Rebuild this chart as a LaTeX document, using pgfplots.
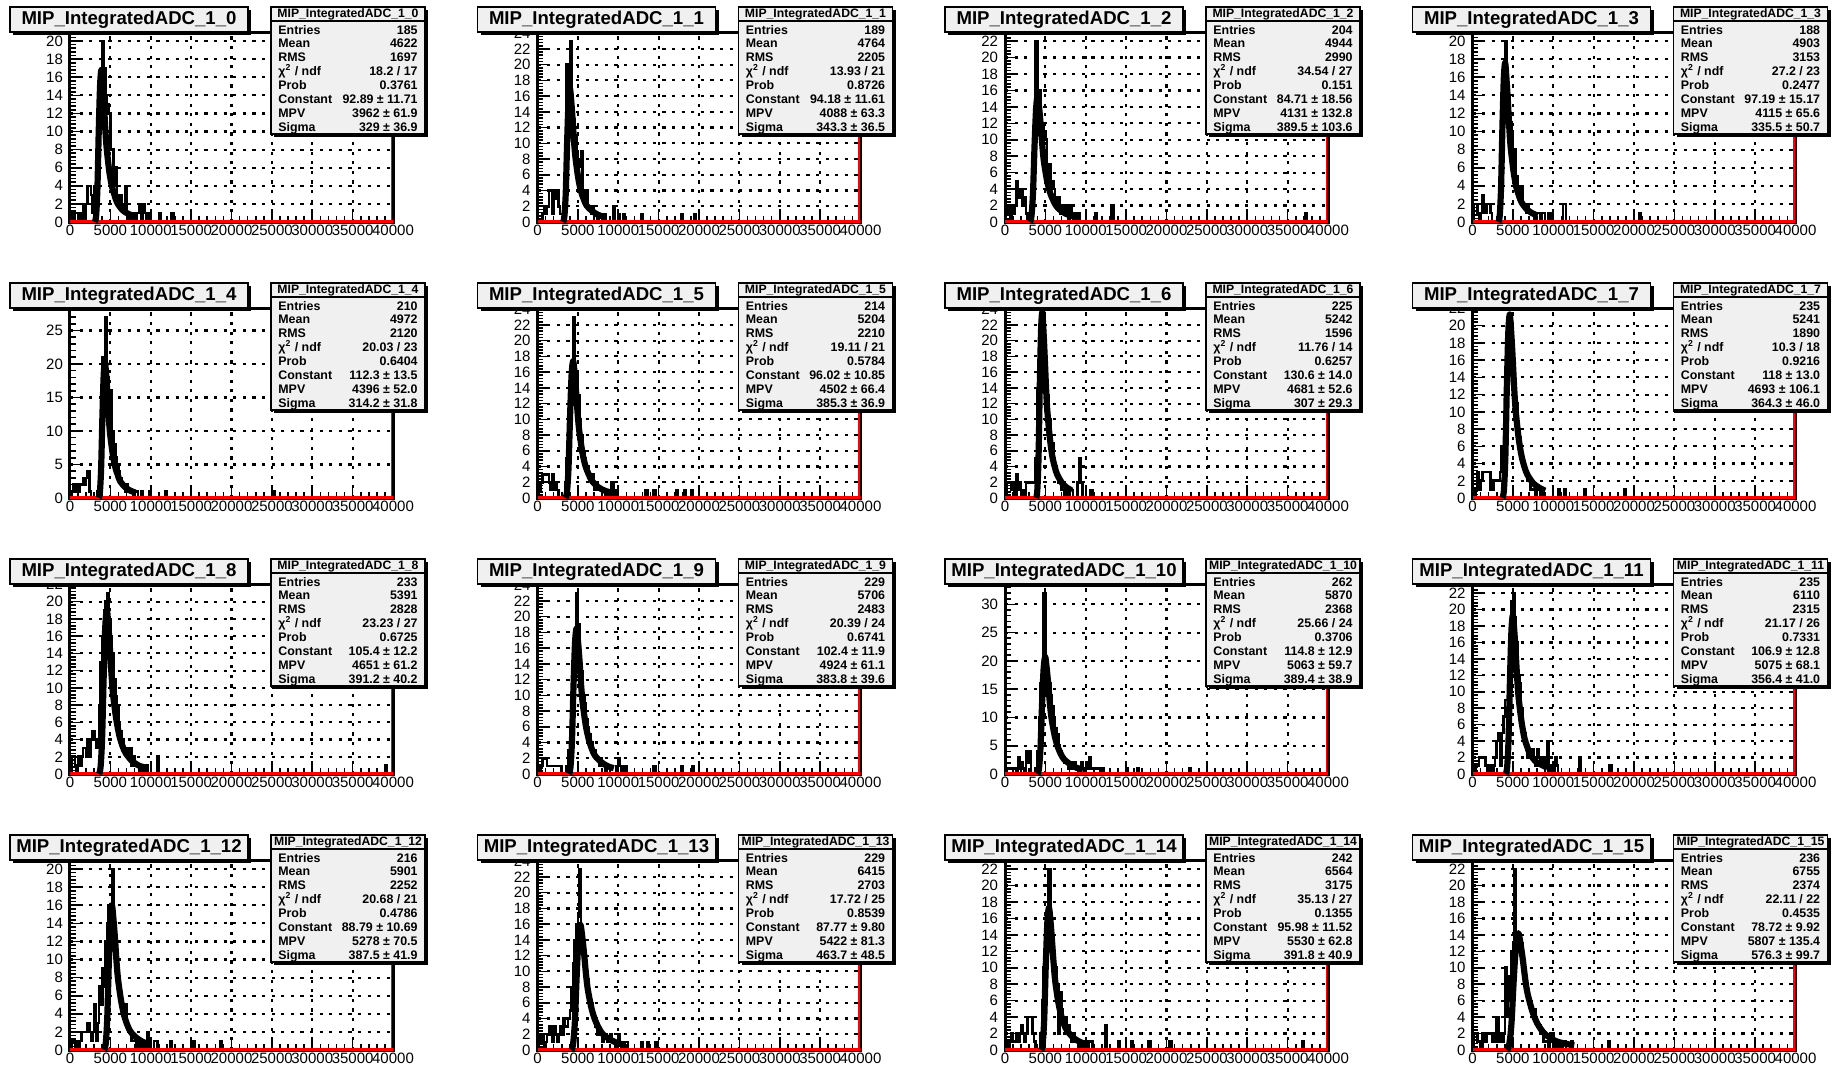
\documentclass[border=0pt]{standalone}
\usepackage{pgfplots}
\pgfplotsset{compat=1.18}
\usepackage{fontspec}
\setmainfont{Liberation Sans}
\definecolor{boxfill}{RGB}{240,240,240}

% one picture pixel = 0.5pt
\pgfplotsset{rootpanel/.style={
  anchor=south west, width=161.5pt, height=95pt, scale only axis,
  xmin=0, xmax=40000, ymin=0,
  xtick={0,5000,...,40000}, minor x tick num=4, minor y tick num=4,
  scaled x ticks=false,
  /pgf/number format/.cd, 1000 sep={}, assume math mode=true, /pgfplots/.cd,
  tick label style={font=\fontsize{7.5}{8}\selectfont},
  xticklabel style={yshift=2.2pt},
  xtick pos=bottom, ytick pos=left, tick align=inside,
  major tick length=5pt, minor tick length=2.8pt,
  every tick/.style={black, line width=0.8pt},
  grid=major,
  major grid style={black, line width=1.1pt, dash pattern=on 1.6pt off 3.2pt},
  axis line style={black, line width=1.5pt},
}}

\newcommand\setstats[8]{\def\sA{#1}\def\sB{#2}\def\sC{#3}\def\sD{#4}%
  \def\sE{#5}\def\sF{#6}\def\sG{#7}\def\sH{#8}}
\newcommand\sfnt{\fontsize{6.2}{6.5}\bfseries\selectfont}
\newcommand\srow[3]{%
  \node[anchor=base west, font=\sfnt, inner sep=0] at (278,#1) {#2};
  \node[anchor=base east, font=\sfnt, inner sep=0] at (418,#1) {#3};}

% #1 x offset, #2 y offset (px), #3 index, #4 ymax, #5 y step, #6 histogram, #7 fit
\newcommand\panel[7]{%
\begin{axis}[rootpanel, at={({(#1+70)*0.5pt},{-(#2+222)*0.5pt})}, ymax=#4, ytick distance=#5]
  \addplot[const plot, black, line width=1.3pt] coordinates {#6};
  \addplot[red, line width=1.8pt] coordinates {(0,0) (40000,0)};
  \addplot[black, line width=3.1pt, smooth, line join=round] coordinates {#7};
\end{axis}
\begin{scope}[x=0.5pt, y=-0.5pt, shift={(#1,#2)}]
  \draw[red, line width=0.9pt] (391.5,134) -- (391.5,221);
  % title
  \fill[black] (13,10) rectangle (251,35);
  \filldraw[fill=boxfill, draw=black, line width=0.8pt] (10,7) rectangle (248,32);
  \node[font=\fontsize{9.3}{10}\bfseries\selectfont, inner sep=0] at (129,19.5) {MIP\_IntegratedADC\_1\_#3};
  % stats
  \fill[black] (274,10) rectangle (428,137);
  \filldraw[fill=boxfill, draw=black, line width=0.8pt] (271,7) rectangle (425,134);
  \draw[line width=0.8pt] (271,21) -- (425,21);
  \node[font=\fontsize{6.1}{6.5}\bfseries\selectfont, inner sep=0] at (348,14.5) {MIP\_IntegratedADC\_1\_#3};
  \srow{34}{Entries}{\sA}
  \srow{47.9}{Mean}{\sB}
  \srow{61.8}{RMS}{\sC}
  \srow{75.7}{χ\textsuperscript{2} / ndf}{\sD}
  \srow{89.6}{Prob}{\sE}
  \srow{103.5}{Constant}{\sF}
  \srow{117.4}{MPV}{\sG}
  \srow{131.3}{Sigma}{\sH}
\end{scope}}

\begin{document}
\begin{tikzpicture}
\useasboundingbox (0,0) rectangle (918.5pt,-533.5pt);

% ---- row 1
\setstats{185}{4622}{1697}{18.2 / 17}{0.3761}{92.89 ± 11.71}{3962 ± 61.9}{329 ± 36.9}
\panel{0}{0}{0}{21}{2}
{(0,0)(200,1)(400,0)(600,1)(800,1)(1000,0)(1200,1)(1400,0)(1600,2)(1800,0)(2000,2)(2200,4)(2400,4)(2600,3)(2800,1)(3000,4)(3200,4)(3400,7)(3600,13)(3800,16)(4000,20)(4200,17)(4400,14)(4600,13)(4800,12)(5000,8)(5200,8)(5400,4)(5600,6)(5800,3)(6000,2)(6200,3)(6400,2)(6600,1)(6800,4)(7000,1)(7200,0)(7400,1)(7600,0)(7800,1)(8000,0)(8200,1)(8400,1)(8600,2)(8800,0)(9000,2)(9200,1)(9400,0)(9600,1)(9800,0)(11000,1)(11200,0)(12600,1)(12800,0)}
{(3068,0)(3232,0.67)(3396,3.7)(3561,10.1)(3725,15.1)(3890,16.8)(4054,15.1)(4219,12.8)(4383,10.1)(4548,8.1)(4877,5.5)(5206,3.9)(5535,2.9)(5864,2.1)(6522,1.3)(7180,0.92)(7838,0.67)}

\setstats{189}{4764}{2205}{13.93 / 21}{0.8726}{94.18 ± 11.61}{4088 ± 63.3}{343.3 ± 36.5}
\panel{467.5}{0}{1}{24.15}{2}
{(0,0)(600,1)(800,2)(1000,1)(1200,2)(1400,4)(1600,4)(1800,1)(2000,4)(2200,3)(2400,4)(2600,2)(2800,1)(3000,1)(3200,1)(3400,6)(3600,20)(3800,14)(4000,23)(4200,15)(4400,13)(4600,11)(4800,9)(5000,7)(5200,8)(5400,9)(5600,4)(5800,3)(6000,4)(6200,2)(6400,2)(6600,1)(6800,2)(7000,1)(7200,1)(7400,0)(7600,1)(7800,1)(8000,0)(8200,1)(8400,0)(9400,2)(9600,0)(10000,1)(10200,0)(10600,1)(10800,0)(12800,1)(13000,0)(17800,1)(18000,0)(19400,1)(19600,0)}
{(3155,0)(3327,0.68)(3499,3.7)(3670,10.2)(3842,15.3)(4013,17.0)(4185,15.3)(4356,12.9)(4528,10.2)(4699,8.2)(5042,5.6)(5385,3.9)(5728,2.9)(6071,2.1)(6757,1.4)(7443,0.94)(8129,0.68)}

\setstats{204}{4944}{2990}{34.54 / 27}{0.151}{84.71 ± 18.56}{4131 ± 132.8}{389.5 ± 103.6}
\panel{935}{0}{2}{23.1}{2}
{(0,2)(200,1)(400,2)(600,0)(800,2)(1000,1)(1200,2)(1400,5)(1600,3)(1800,4)(2000,4)(2200,2)(2400,3)(2600,1)(2800,0)(3200,1)(3400,8)(3600,13)(3800,22)(4000,14)(4200,16)(4400,13)(4600,12)(4800,11)(5000,10)(5200,6)(5400,7)(5600,4)(5800,5)(6000,4)(6200,3)(6400,2)(6600,3)(6800,1)(7000,2)(7200,1)(7400,2)(7600,1)(7800,0)(8000,2)(8200,1)(8400,0)(8600,1)(8800,0)(9000,1)(9200,0)(11200,1)(11400,0)(13200,2)(13400,0)(37200,1)(37400,0)}
{(3071,0)(3266,0.61)(3461,3.4)(3656,9.2)(3850,13.8)(4045,15.3)(4240,13.8)(4435,11.6)(4629,9.2)(4824,7.3)(5214,5.0)(5603,3.5)(5993,2.6)(6382,1.9)(7161,1.2)(7940,0.84)(8719,0.61)}

\setstats{188}{4903}{3153}{27.2 / 23}{0.2477}{97.19 ± 15.17}{4115 ± 65.6}{335.5 ± 50.7}
\panel{1402.5}{0}{3}{21}{2}
{(0,0)(200,2)(400,2)(600,1)(800,0)(1000,1)(1200,3)(1400,2)(1600,1)(1800,2)(2000,2)(2200,1)(2400,0)(3200,1)(3400,4)(3600,12)(3800,17)(4000,20)(4200,17)(4400,14)(4600,11)(4800,10)(5000,7)(5200,8)(5400,5)(5600,4)(5800,3)(6000,4)(6200,2)(6400,2)(6600,1)(6800,2)(7000,1)(7200,1)(7400,1)(7600,0)(7800,1)(8000,1)(8200,1)(8400,0)(8600,1)(8800,1)(9000,0)(9400,1)(9600,1)(9800,0)(11200,2)(11400,2)(11600,0)(20600,1)(20800,0)}
{(3202,0)(3370,0.70)(3538,3.9)(3706,10.6)(3873,15.8)(4041,17.6)(4209,15.8)(4377,13.4)(4544,10.6)(4712,8.4)(5048,5.8)(5383,4.0)(5719,3.0)(6054,2.2)(6725,1.4)(7396,0.97)(8067,0.70)}

% ---- row 2
\setstats{210}{4972}{2120}{20.03 / 23}{0.6404}{112.3 ± 13.5}{4396 ± 52.0}{314.2 ± 31.8}
\panel{0}{276}{4}{28.35}{5}
{(0,0)(200,1)(400,2)(600,1)(800,2)(1000,1)(1200,2)(1400,2)(1600,3)(1800,2)(2000,3)(2200,4)(2400,1)(2600,0)(3400,1)(3600,3)(3800,10)(4000,21)(4200,20)(4400,27)(4600,18)(4800,15)(5000,16)(5200,10)(5400,8)(5600,6)(5800,5)(6000,4)(6200,3)(6400,2)(6600,2)(6800,1)(7000,2)(7200,1)(7400,1)(7600,1)(7800,0)(8000,1)(8200,1)(8400,0)(8800,1)(9000,0)(9800,1)(10000,0)(11800,1)(12000,0)(25200,1)(25400,0)}
{(3541,0)(3699,0.81)(3856,4.5)(4013,12.2)(4170,18.3)(4327,20.3)(4484,18.3)(4641,15.4)(4798,12.2)(4955,9.7)(5270,6.7)(5584,4.7)(5898,3.5)(6212,2.5)(6841,1.6)(7469,1.1)(8097,0.81)}

\setstats{214}{5204}{2210}{19.11 / 21}{0.5784}{96.02 ± 10.85}{4502 ± 66.4}{385.3 ± 36.9}
\panel{467.5}{276}{5}{24.15}{2}
{(0,0)(200,1)(400,2)(600,3)(800,3)(1000,3)(1200,3)(1400,2)(1600,1)(1800,3)(2000,1)(2200,2)(2400,1)(2600,0)(3400,2)(3600,5)(3800,9)(4000,16)(4200,17)(4400,23)(4600,15)(4800,16)(5000,13)(5200,10)(5400,8)(5600,6)(5800,5)(6000,4)(6200,4)(6400,3)(6600,2)(6800,3)(7000,1)(7200,2)(7400,1)(7600,1)(7800,1)(8000,0)(8400,1)(8600,1)(8800,0)(9200,2)(9400,0)(9600,1)(9800,0)(13400,1)(13600,0)(14400,1)(14600,0)(17200,1)(17400,0)(18200,1)(18400,0)(19000,1)(19200,0)}
{(3454,0)(3646,0.70)(3839,3.8)(4032,10.4)(4224,15.7)(4417,17.4)(4610,15.7)(4802,13.2)(4995,10.4)(5188,8.4)(5573,5.7)(5958,4.0)(6344,3.0)(6729,2.2)(7499,1.4)(8270,0.96)(9041,0.70)}

\setstats{225}{5242}{1596}{11.76 / 14}{0.6257}{130.6 ± 14.0}{4681 ± 52.6}{307 ± 29.3}
\panel{935}{276}{6}{24.15}{2}
{(0,0)(200,2)(400,2)(600,2)(800,1)(1000,2)(1200,0)(1400,3)(1600,1)(1800,2)(2000,0)(2200,1)(2400,0)(2600,2)(2800,2)(3000,2)(3200,2)(3400,2)(3600,2)(3800,5)(4000,14)(4200,21)(4400,23)(4600,22)(4800,20)(5000,17)(5200,13)(5400,10)(5600,8)(5800,7)(6000,5)(6200,4)(6400,3)(6600,2)(6800,2)(7000,1)(7200,1)(7400,0)(7600,1)(7800,0)(8000,1)(8200,1)(8400,0)(9000,2)(9200,5)(9400,2)(9600,0)(10600,1)(10800,0)}
{(3845,0)(3999,0.94)(4153,5.2)(4306,14.2)(4460,21.2)(4613,23.6)(4767,21.2)(4920,17.9)(5074,14.2)(5227,11.3)(5534,7.8)(5841,5.4)(6148,4.0)(6455,3.0)(7069,1.9)(7683,1.3)(8297,0.94)}

\setstats{235}{5241}{1890}{10.3 / 18}{0.9216}{118 ± 13.0}{4693 ± 106.1}{364.3 ± 46.0}
\panel{1402.5}{276}{7}{22.05}{2}
{(0,0)(400,1)(600,3)(800,1)(1000,2)(1200,3)(1400,3)(1600,3)(1800,3)(2000,3)(2200,1)(2400,1)(2600,2)(2800,2)(3000,2)(3200,2)(3400,3)(3600,6)(3800,6)(4000,13)(4200,14)(4400,21)(4600,20)(4800,18)(5000,16)(5200,12)(5400,11)(5600,8)(5800,7)(6000,5)(6200,4)(6400,3)(6600,3)(6800,2)(7000,2)(7200,1)(7400,1)(7600,1)(7800,0)(8000,1)(8200,1)(8400,0)(8600,1)(8800,0)(10600,1)(10800,0)(11400,1)(11600,0)(13800,1)(14000,0)(18800,1)(19000,0)}
{(3702,0)(3885,0.85)(4067,4.7)(4249,12.8)(4431,19.2)(4613,21.3)(4795,19.2)(4977,16.2)(5160,12.8)(5342,10.2)(5706,7.0)(6070,4.9)(6435,3.6)(6799,2.7)(7527,1.7)(8256,1.2)(8985,0.85)}

% ---- row 3
\setstats{233}{5391}{2828}{23.23 / 27}{0.6725}{105.4 ± 12.2}{4651 ± 61.2}{391.2 ± 40.2}
\panel{0}{552}{8}{22.05}{2}
{(0,0)(200,2)(400,2)(600,1)(800,0)(1000,2)(1200,1)(1400,2)(1600,3)(1800,3)(2000,2)(2200,4)(2400,2)(2600,4)(2800,5)(3000,4)(3200,3)(3400,4)(3600,8)(3800,13)(4000,16)(4200,19)(4400,20)(4600,21)(4800,18)(5000,16)(5200,14)(5400,11)(5600,9)(5800,8)(6000,6)(6200,5)(6400,4)(6600,3)(6800,3)(7000,2)(7200,2)(7400,3)(7600,1)(7800,2)(8000,1)(8200,1)(8400,1)(8600,0)(8800,1)(9000,1)(9200,0)(9400,1)(9600,0)(10800,2)(11000,0)(39000,1)(39200,0)}
{(3587,0)(3783,0.76)(3978,4.2)(4174,11.4)(4369,17.1)(4565,19.0)(4761,17.1)(4956,14.4)(5152,11.4)(5347,9.1)(5739,6.3)(6130,4.4)(6521,3.2)(6912,2.4)(7695,1.5)(8477,1.0)(9259,0.76)}

\setstats{229}{5706}{2483}{20.39 / 24}{0.6741}{102.4 ± 11.9}{4924 ± 61.1}{383.8 ± 39.6}
\panel{467.5}{552}{9}{24.15}{2}
{(0,0)(400,1)(600,2)(800,2)(1000,2)(1200,1)(3000,0)(3600,1)(3800,3)(4000,6)(4200,10)(4400,13)(4600,18)(4800,23)(5000,19)(5200,15)(5400,13)(5600,10)(5800,9)(6000,7)(6200,6)(6400,5)(6600,4)(6800,3)(7000,3)(7200,2)(7400,2)(7600,1)(7800,2)(8000,1)(8200,1)(8400,0)(8600,1)(8800,1)(9000,0)(9800,1)(10000,2)(10200,1)(10400,0)(10800,1)(11000,0)(14400,1)(14600,0)(17800,1)(18000,0)(19200,1)(19400,0)}
{(3880,0)(4072,0.74)(4264,4.1)(4456,11.1)(4648,16.7)(4840,18.5)(5032,16.7)(5224,14.1)(5416,11.1)(5608,8.9)(5991,6.1)(6375,4.3)(6759,3.1)(7143,2.3)(7910,1.5)(8678,1.0)(9446,0.74)}

\setstats{262}{5870}{2368}{25.66 / 24}{0.3706}{114.8 ± 12.9}{5063 ± 59.7}{389.4 ± 38.9}
\panel{935}{552}{10}{33.6}{5}
{(0,0)(200,1)(1400,0)(1600,3)(1800,1)(2000,2)(2200,1)(2400,0)(2600,4)(2800,2)(3000,4)(3200,0)(3800,1)(4000,4)(4200,10)(4400,16)(4600,19)(4800,32)(5000,20)(5200,18)(5400,16)(5600,14)(5800,12)(6000,10)(6200,8)(6400,7)(6600,5)(6800,4)(7000,3)(7200,3)(7400,2)(7600,2)(7800,1)(8000,2)(8200,1)(8400,1)(8600,2)(8800,1)(9000,1)(9200,0)(9400,2)(9600,1)(9800,0)(10000,1)(10200,2)(10400,3)(10600,1)(11800,0)(12000,1)(12200,0)(15000,1)(15200,0)(16400,1)(16600,0)(22800,1)(23000,0)}
{(4003,0)(4198,0.83)(4393,4.6)(4588,12.4)(4782,18.6)(4977,20.7)(5172,18.6)(5366,15.7)(5561,12.4)(5756,9.9)(6145,6.8)(6535,4.8)(6924,3.5)(7313,2.6)(8092,1.7)(8871,1.1)(9650,0.83)}

\setstats{235}{6110}{2315}{21.17 / 26}{0.7331}{106.9 ± 12.8}{5075 ± 68.1}{356.4 ± 41.0}
\panel{1402.5}{552}{11}{23.1}{2}
{(0,0)(400,1)(600,1)(800,2)(1000,2)(1200,2)(1400,2)(1600,1)(1800,0)(2000,1)(2200,0)(2600,1)(2800,2)(3000,4)(3200,5)(3400,1)(3600,5)(3800,7)(4000,9)(4200,9)(4400,13)(4600,16)(4800,21)(5000,22)(5200,19)(5400,16)(5600,12)(5800,11)(6000,8)(6200,6)(6400,5)(6600,3)(6800,2)(7000,3)(7200,2)(7400,3)(7600,2)(7800,1)(8000,3)(8200,2)(8400,1)(8600,1)(8800,2)(9000,1)(9200,4)(9400,0)(9600,1)(9800,0)(10200,2)(10400,1)(10600,0)(13200,2)(13400,0)(17000,1)(17200,0)}
{(4106,0)(4284,0.77)(4462,4.2)(4641,11.6)(4819,17.4)(4997,19.3)(5175,17.4)(5353,14.7)(5532,11.6)(5710,9.3)(6066,6.4)(6423,4.4)(6779,3.3)(7135,2.4)(7848,1.5)(8561,1.1)(9274,0.77)}

% ---- row 4
\setstats{216}{5901}{2252}{20.68 / 21}{0.4786}{88.79 ± 10.69}{5278 ± 70.5}{387.5 ± 41.9}
\panel{0}{828}{12}{21}{2}
{(0,0)(200,1)(400,1)(600,0)(800,1)(1000,0)(1200,1)(1400,2)(1600,2)(1800,2)(2000,2)(2200,3)(2400,2)(2600,1)(2800,2)(3000,5)(3200,1)(3400,3)(3600,7)(3800,5)(4000,9)(4200,7)(4400,12)(4600,14)(4800,16)(5000,16)(5200,20)(5400,14)(5600,12)(5800,9)(6000,7)(6200,6)(6400,5)(6600,4)(6800,5)(7000,3)(7200,2)(7400,2)(7600,1)(7800,1)(8000,1)(8200,0)(8400,1)(8600,0)(9000,1)(9200,0)(9600,2)(9800,1)(10000,0)(10400,1)(10600,1)(10800,0)(12400,1)(12600,0)(15200,1)(15400,0)(18600,1)(18800,0)}
{(4224,0)(4418,0.64)(4612,3.5)(4806,9.6)(4999,14.4)(5193,16.0)(5387,14.4)(5581,12.2)(5774,9.6)(5968,7.7)(6356,5.3)(6743,3.7)(7131,2.7)(7518,2.0)(8293,1.3)(9068,0.88)(9843,0.64)}

\setstats{229}{6415}{2703}{17.72 / 25}{0.8539}{87.77 ± 9.80}{5422 ± 81.3}{463.7 ± 48.5}
\panel{467.5}{828}{13}{24.15}{2}
{(0,0)(200,2)(400,1)(600,2)(800,0)(1000,1)(1200,2)(1400,3)(1600,2)(1800,1)(2000,3)(2200,2)(2400,1)(2600,2)(2800,3)(3000,2)(3200,4)(3400,3)(3600,3)(3800,4)(4000,5)(4200,8)(4400,11)(4600,14)(4800,16)(5000,17)(5200,23)(5400,15)(5600,14)(5800,12)(6000,10)(6200,9)(6400,7)(6600,6)(6800,5)(7000,4)(7200,3)(7400,2)(7600,2)(7800,2)(8000,1)(8200,2)(8400,2)(8600,1)(8800,1)(9000,2)(9200,1)(9400,1)(9600,0)(9800,1)(10000,2)(10200,1)(10400,0)(10800,1)(11000,1)(11200,0)(12800,1)(13000,0)(13600,1)(13800,0)(14600,1)(14800,0)}
{(4161,0)(4393,0.64)(4624,3.5)(4856,9.5)(5088,14.3)(5320,15.9)(5552,14.3)(5784,12.1)(6016,9.5)(6247,7.6)(6711,5.2)(7175,3.7)(7639,2.7)(8102,2.0)(9030,1.3)(9957,0.87)(10884,0.64)}

\setstats{242}{6564}{3175}{35.13 / 27}{0.1355}{95.98 ± 11.52}{5530 ± 62.8}{391.8 ± 40.9}
\panel{935}{828}{14}{23.1}{2}
{(0,0)(200,1)(400,0)(600,1)(800,2)(1000,1)(1200,1)(1400,2)(1600,1)(1800,2)(2000,3)(2200,2)(2400,1)(2600,2)(2800,4)(3000,4)(3200,4)(3400,2)(3600,1)(3800,0)(4400,2)(4600,6)(4800,10)(5000,15)(5200,17)(5400,22)(5600,16)(5800,14)(6000,12)(6200,10)(6400,8)(6600,2)(6800,7)(7000,5)(7200,4)(7400,4)(7600,3)(7800,3)(8000,2)(8200,1)(8400,2)(8600,1)(8800,1)(9000,1)(9200,0)(9400,1)(9600,0)(10000,1)(10200,0)(10400,1)(10600,1)(10800,0)(12400,3)(12600,0)(14000,1)(14200,0)(15600,1)(15800,0)(17800,1)(18000,0)(20400,1)(20600,0)(36800,1)(37000,0)}
{(4464,0)(4660,0.69)(4856,3.8)(5052,10.4)(5248,15.6)(5444,17.3)(5640,15.6)(5836,13.1)(6032,10.4)(6228,8.3)(6619,5.7)(7011,4.0)(7403,2.9)(7795,2.2)(8578,1.4)(9362,0.95)(10146,0.69)}

\setstats{236}{6755}{2374}{22.11 / 22}{0.4535}{78.72 ± 9.92}{5807 ± 135.4}{576.3 ± 99.7}
\panel{1402.5}{828}{15}{23.1}{2}
{(0,0)(200,2)(400,2)(600,1)(800,1)(1000,0)(1200,2)(1400,2)(1600,1)(1800,2)(2000,2)(2200,2)(2400,1)(2600,2)(2800,1)(3000,4)(3200,1)(3400,2)(3600,1)(3800,2)(4000,10)(4200,4)(4400,6)(4600,9)(4800,12)(5000,13)(5200,22)(5400,14)(5600,14)(5800,12)(6000,13)(6200,10)(6400,9)(6600,8)(6800,7)(7000,6)(7200,5)(7400,4)(7600,5)(7800,4)(8000,3)(8200,3)(8400,2)(8600,2)(8800,1)(9000,1)(9200,1)(9400,0)(9600,1)(9800,2)(10000,1)(10200,0)(10400,1)(10600,1)(10800,0)(11200,1)(11400,1)(11600,0)(12200,1)(12400,0)(16800,1)(17000,0)}
{(4239,0)(4528,0.57)(4816,3.1)(5104,8.5)(5392,12.8)(5680,14.2)(5968,12.8)(6256,10.8)(6544,8.5)(6833,6.8)(7409,4.7)(7985,3.3)(8562,2.4)(9138,1.8)(10290,1.1)(11443,0.78)(12596,0.57)}

\end{tikzpicture}
\end{document}
